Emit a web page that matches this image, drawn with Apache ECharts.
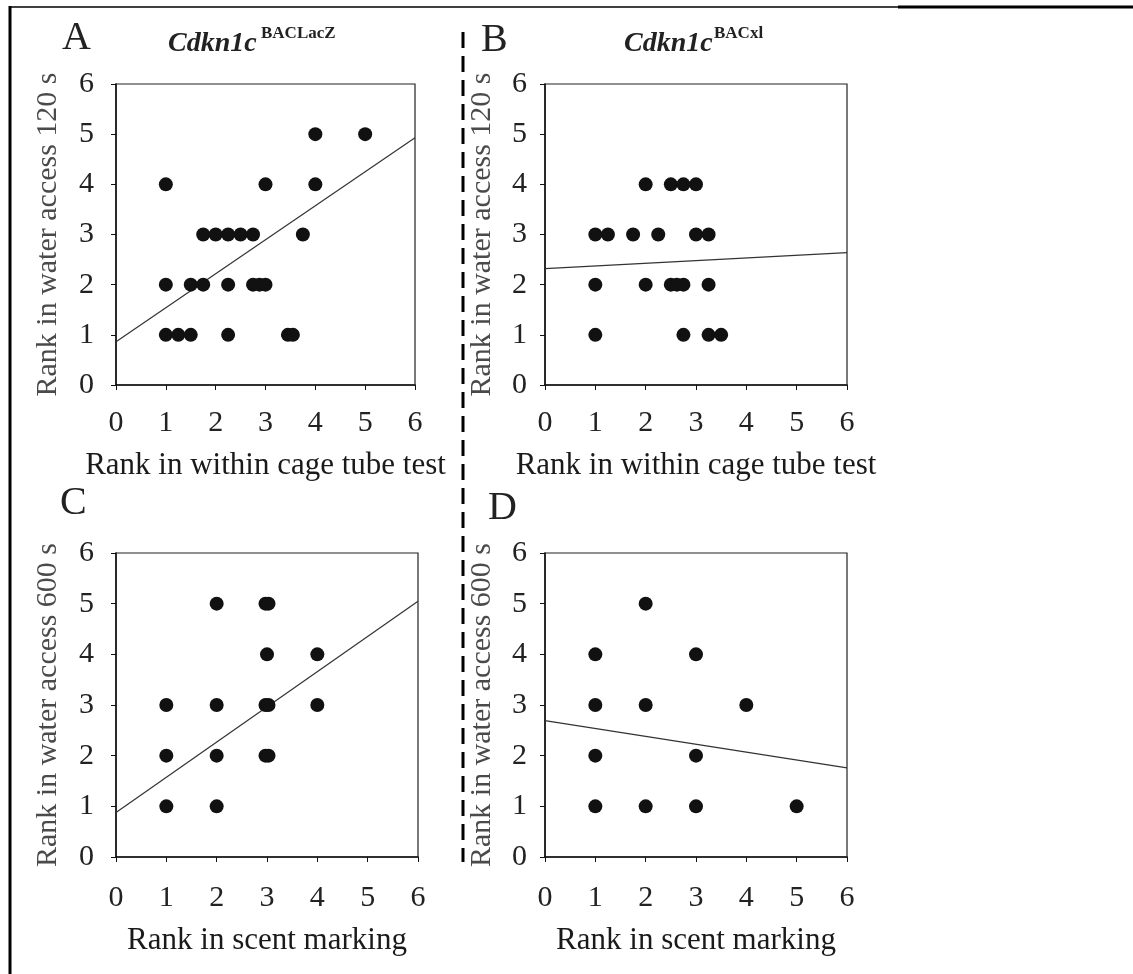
<!DOCTYPE html>
<html>
<head>
<meta charset="utf-8">
<title>Cdkn1c rank correlations</title>
<script src="https://cdn.jsdelivr.net/npm/echarts@6/dist/echarts.min.js"></script>
<style>
  html, body { margin: 0; padding: 0; background: #fff; }
  #chart { width: 1133px; height: 974px; }
</style>
</head>
<body>
<div id="chart"></div>
<script>
// panel texts
const panelLetters = ['A', 'B', 'C', 'D'];
const genotypes = ['Cdkn1c', 'Cdkn1c'];
const superscripts = ['BACLacZ', 'BACxl'];
const xNames = ['Rank in within cage tube test', 'Rank in within cage tube test', 'Rank in scent marking', 'Rank in scent marking'];
const yNames = ['Rank in water access 120 s', 'Rank in water access 120 s', 'Rank in water access 600 s', 'Rank in water access 600 s'];

// A: tube test vs water access 120 s, BACLacZ
const pointsA = [
  [4, 5], [5, 5],
  [1, 4], [3, 4], [4, 4],
  [1.75, 3], [2, 3], [2.25, 3], [2.5, 3], [2.75, 3], [3.75, 3],
  [1, 2], [1.5, 2], [1.75, 2], [2.25, 2], [2.75, 2], [2.88, 2], [3, 2],
  [1, 1], [1.25, 1], [1.5, 1], [2.25, 1], [3.45, 1], [3.55, 1]
];
const fitA = [[0, 0.86], [6, 4.93]];

// B: tube test vs water access 120 s, BACxl
const pointsB = [
  [2, 4], [2.5, 4], [2.75, 4], [3, 4],
  [1, 3], [1.25, 3], [1.75, 3], [2.25, 3], [3, 3], [3.25, 3],
  [1, 2], [2, 2], [2.5, 2], [2.62, 2], [2.75, 2], [3.25, 2],
  [1, 1], [2.75, 1], [3.25, 1], [3.5, 1]
];
const fitB = [[0, 2.32], [6, 2.64]];

// C: scent marking vs water access 600 s, BACLacZ
const pointsC = [
  [2, 5], [2.97, 5], [3.03, 5],
  [3, 4], [4, 4],
  [1, 3], [2, 3], [2.97, 3], [3.03, 3], [4, 3],
  [1, 2], [2, 2], [2.97, 2], [3.03, 2],
  [1, 1], [2, 1]
];
const fitC = [[0, 0.88], [6, 5.05]];

// D: scent marking vs water access 600 s, BACxl
const pointsD = [
  [2, 5],
  [1, 4], [3, 4],
  [1, 3], [2, 3], [4, 3],
  [1, 2], [3, 2],
  [1, 1], [2, 1], [3, 1], [5, 1]
];
const fitD = [[0, 2.69], [6, 1.76]];

const allPoints = [pointsA, pointsB, pointsC, pointsD];
const allFits = [fitA, fitB, fitC, fitD];

const serif = '"Liberation Serif", "DejaVu Serif", serif';

const grids = [
  { left: 116, top: 84, width: 299, height: 301 },
  { left: 545, top: 84, width: 302, height: 301 },
  { left: 116, top: 553, width: 302, height: 304 },
  { left: 545, top: 553, width: 302, height: 304 }
];
const yNameGaps = [53, 48, 53, 48];
const yLabelMargins = [22, 18, 22, 18];
const xLabelMargins = [23, 23, 26, 26];
const xNameGaps = [65, 65, 68, 68];

const xAxes = grids.map((g, i) => ({
  type: 'value', gridIndex: i, min: 0, max: 6, interval: 1,
  name: xNames[i], nameLocation: 'middle', nameGap: xNameGaps[i],
  nameTextStyle: { fontFamily: serif, fontSize: 31, color: '#1a1a1a' },
  axisLine: { show: true, lineStyle: { color: '#111', width: 1.5 } },
  axisTick: { show: true, length: 5, lineStyle: { color: '#111', width: 1 } },
  axisLabel: { margin: xLabelMargins[i], fontFamily: serif, fontSize: 30, color: '#222' },
  splitLine: { show: false }
}));

const yAxes = grids.map((g, i) => ({
  type: 'value', gridIndex: i, min: 0, max: 6, interval: 1,
  name: yNames[i], nameLocation: 'middle', nameGap: yNameGaps[i],
  nameTextStyle: { fontFamily: serif, fontSize: 30, color: '#4a4a4a' },
  axisLine: { show: true, lineStyle: { color: '#111', width: 1.5 } },
  axisTick: { show: true, length: 5, lineStyle: { color: '#111', width: 1 } },
  axisLabel: { margin: yLabelMargins[i], fontFamily: serif, fontSize: 30, color: '#222' },
  splitLine: { show: false }
}));

const series = [];
allPoints.forEach((pts, i) => {
  series.push({
    type: 'scatter', xAxisIndex: i, yAxisIndex: i, data: pts,
    symbol: 'circle', symbolSize: 14,
    itemStyle: { color: '#111', opacity: 1 },
    silent: true
  });
});
allFits.forEach((fit, i) => {
  series.push({
    type: 'line', xAxisIndex: i, yAxisIndex: i, data: fit,
    symbol: 'none', lineStyle: { color: '#333', width: 1.2 },
    silent: true, z: 1
  });
});

const letterPos = [[62, 18], [481, 20], [60, 483], [488, 488]];
const titles = panelLetters.map((t, i) => ({
  text: t, left: letterPos[i][0], top: letterPos[i][1], padding: 0,
  textStyle: { fontFamily: serif, fontSize: 40, fontWeight: 'normal', color: '#222' }
}));
const genoPos = [[168, 30], [624, 30]];
const supPos = [[261, 25], [714, 25]];
genotypes.forEach((t, i) => {
  titles.push({
    text: t, left: genoPos[i][0], top: genoPos[i][1], padding: 0,
    textStyle: { fontFamily: serif, fontSize: 28, fontWeight: 'bold', fontStyle: 'italic', color: '#222' }
  });
  titles.push({
    text: superscripts[i], left: supPos[i][0], top: supPos[i][1], padding: 0,
    textStyle: { fontFamily: serif, fontSize: 17, fontWeight: 'bold', color: '#222' }
  });
});

const chart = echarts.init(document.getElementById('chart'), null, { renderer: 'canvas' });
chart.setOption({
  animation: false,
  backgroundColor: '#fff',
  title: titles,
  grid: grids.map(g => Object.assign({ show: true, borderColor: '#222', borderWidth: 1.2, backgroundColor: 'transparent', containLabel: false }, g)),
  xAxis: xAxes,
  yAxis: yAxes,
  series: series,
  graphic: [
    { type: 'line', shape: { x1: 10, y1: 7, x2: 1133, y2: 7 }, style: { stroke: '#000', lineWidth: 1.5 } },
    { type: 'line', shape: { x1: 898, y1: 7, x2: 1133, y2: 7 }, style: { stroke: '#000', lineWidth: 3 } },
    { type: 'line', shape: { x1: 10, y1: 6, x2: 10, y2: 974 }, style: { stroke: '#000', lineWidth: 3 } },
    { type: 'line', shape: { x1: 463, y1: 32, x2: 463, y2: 862 }, style: { stroke: '#000', lineWidth: 3, lineDash: [16, 8] } }
  ]
});
</script>
</body>
</html>
